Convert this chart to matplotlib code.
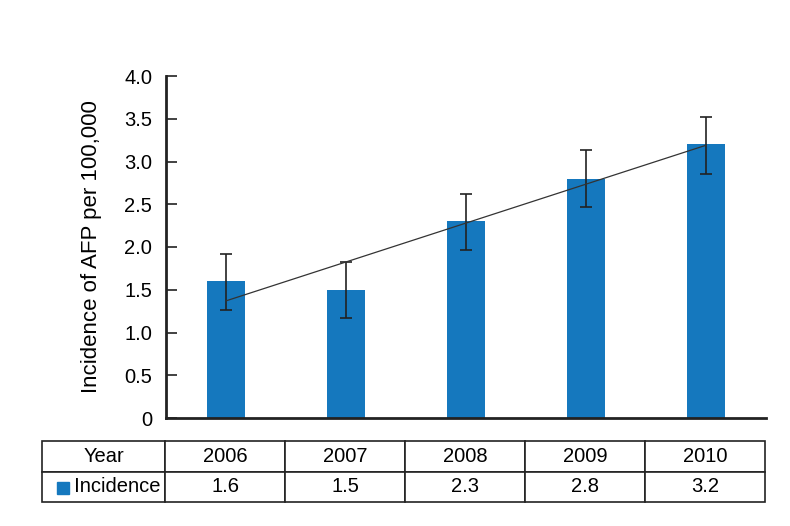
import numpy as np
import matplotlib
matplotlib.use('Agg')
import matplotlib.pyplot as plt

plt.rcParams['font.family'] = ['Liberation Sans', 'DejaVu Sans']

years = ['2006', '2007', '2008', '2009', '2010']
incidence = [1.6, 1.5, 2.3, 2.8, 3.2]
ci_low = [1.26, 1.17, 1.96, 2.47, 2.85]
ci_high = [1.92, 1.83, 2.62, 3.13, 3.52]
trend_ends = [1.37, 3.19]
yticks = [0, 0.5, 1.0, 1.5, 2.0, 2.5, 3.0, 3.5, 4.0]
ytick_labels = ['0', '0.5', '1.0', '1.5', '2.0', '2.5', '3.0', '3.5', '4.0']

bar_color = '#1578be'

fig = plt.figure(figsize=(7.9, 5.26), dpi=100)
ax = fig.add_axes([166 / 790, 1 - 418 / 526, 600 / 790, 342 / 526])

x = np.arange(len(years))
inc = np.array(incidence)
err = [inc - np.array(ci_low), np.array(ci_high) - inc]
ax.bar(x, inc, width=0.317, color=bar_color, zorder=2)
ax.errorbar(x, inc, yerr=err, fmt='none', ecolor='#222222', elinewidth=1.2,
            capsize=4, capthick=1.2, zorder=3)
ax.plot([x[0], x[-1]], trend_ends, color='#333333', linewidth=0.9, zorder=4)

ax.set_xlim(-0.5, len(years) - 0.5)
ax.set_ylim(0, 4.0)
ax.set_yticks(yticks)
ax.set_yticklabels(ytick_labels, fontsize=14.5)
ax.set_xticks([])
ax.tick_params(axis='y', direction='in', length=8, width=1.2, pad=10, color='#222222')
for s in ['top', 'right']:
    ax.spines[s].set_visible(False)
ax.spines['left'].set_linewidth(2)
ax.spines['bottom'].set_linewidth(2)
ax.spines['left'].set_color('#222222')
ax.spines['bottom'].set_color('#222222')
ax.set_ylabel('Incidence of AFP per 100,000', fontsize=16, labelpad=16)

# table below the axis
cell_text = [['Year'] + years, ['     Incidence'] + ['{:.1f}'.format(v) for v in incidence]]
tab = ax.table(cellText=cell_text, cellLoc='center',
               colWidths=[123 / 600] + [120 / 600] * len(years),
               bbox=[(42 - 166) / 600, (418 - 502) / 342, 723 / 600, 61 / 342])
tab.auto_set_font_size(False)
for (r, c), cell in tab.get_celld().items():
    cell.set_fontsize(14.5)
    cell.set_linewidth(1.2)
    cell.set_edgecolor('#222222')
tab[1, 0].get_text().set_ha('center')

fig.patches.append(plt.Rectangle((57 / 790, 1 - 494 / 526), 12 / 790, 12 / 526,
                                 transform=fig.transFigure, color=bar_color))

plt.savefig('out.png', dpi=100)
